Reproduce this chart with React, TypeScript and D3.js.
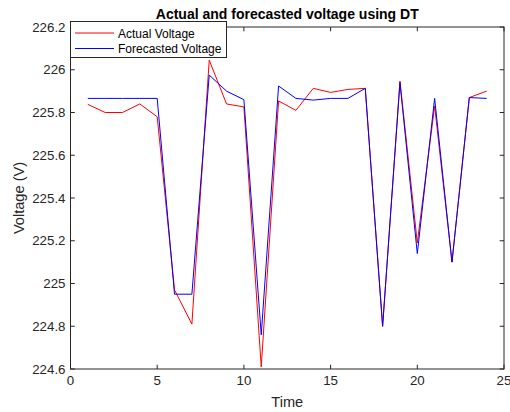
import React from 'react'
import * as d3 from 'd3'

const timeSteps = [1, 2, 3, 4, 5, 6, 7, 8, 9, 10, 11, 12, 13, 14, 15, 16, 17, 18, 19, 20, 21, 22, 23, 24]
const actualVoltage = [225.838, 225.80, 225.80, 225.84, 225.78, 224.97, 224.81, 226.045, 225.84, 225.826, 224.61, 225.854, 225.81, 225.913, 225.894, 225.908, 225.913, 224.80, 225.947, 225.19, 225.83, 225.10, 225.87, 225.90]
const forecastVoltage = [225.866, 225.866, 225.866, 225.866, 225.866, 224.95, 224.95, 225.975, 225.90, 225.86, 224.76, 225.924, 225.866, 225.858, 225.866, 225.866, 225.913, 224.80, 225.94, 225.14, 225.866, 225.10, 225.87, 225.866]
const xTicks = [0, 5, 10, 15, 20, 25]
const yTicks = [224.6, 224.8, 225, 225.2, 225.4, 225.6, 225.8, 226, 226.2]

const font = '"Liberation Sans", Arial, sans-serif'
const axisColor = '#262626'

const App = () => {
    const width = 510, height = 412
    const left = 70.5, right = 504, top = 27, bottom = 369

    const x = d3.scaleLinear().domain([0, 25]).range([left, right])
    const y = d3.scaleLinear().domain([224.6, 226.2]).range([bottom, top])

    const line = d3.line<number>()
        .x((d, i) => x(timeSteps[i]))
        .y(d => y(d))

    const tick = 4.3

    return (
        <svg width={width} height={height} style={{ position: 'absolute', left: 0, top: 0, background: '#fff' }}>
            {/* plot lines */}
            <path d={line(actualVoltage) || ''} fill='none' stroke='#ff0000' strokeWidth={1} />
            <path d={line(forecastVoltage) || ''} fill='none' stroke='#0000ff' strokeWidth={1} />

            {/* box */}
            <rect x={left} y={top} width={right - left} height={bottom - top} fill='none' stroke={axisColor} strokeWidth={1} />

            {/* x ticks, bottom and top */}
            {xTicks.map(t => (
                <g key={'x' + t}>
                    <line x1={x(t)} x2={x(t)} y1={bottom} y2={bottom - tick} stroke={axisColor} />
                    <line x1={x(t)} x2={x(t)} y1={top} y2={top + tick} stroke={axisColor} />
                    <text x={x(t)} y={bottom + 16} textAnchor='middle' fontFamily={font} fontSize={13.3} fill={axisColor}>{t}</text>
                </g>
            ))}

            {/* y ticks, left and right */}
            {yTicks.map(t => (
                <g key={'y' + t}>
                    <line x1={left} x2={left + tick} y1={y(t)} y2={y(t)} stroke={axisColor} />
                    <line x1={right} x2={right - tick} y1={y(t)} y2={y(t)} stroke={axisColor} />
                    <text x={left - 5} y={y(t) + 4.5} textAnchor='end' fontFamily={font} fontSize={13.3} fill={axisColor}>{d3.format('')(+t.toFixed(1))}</text>
                </g>
            ))}

            {/* labels */}
            <text x={(left + right) / 2} y={18.5} textAnchor='middle' fontFamily={font} fontSize={14} fontWeight='bold' fill='#000'>Actual and forecasted voltage using DT</text>
            <text x={(left + right) / 2} y={407} textAnchor='middle' fontFamily={font} fontSize={14.6} fill={axisColor}>Time</text>
            <text transform={`translate(24,${(top + bottom) / 2}) rotate(-90)`} textAnchor='middle' fontFamily={font} fontSize={14.6} fill={axisColor}>Voltage (V)</text>

            {/* legend */}
            <g>
                <rect x={70.5} y={21.5} width={156} height={36} fill='#fff' stroke={axisColor} strokeWidth={1} />
                <line x1={75} x2={114} y1={33} y2={33} stroke='#ff0000' />
                <line x1={75} x2={114} y1={48.5} y2={48.5} stroke='#0000ff' />
                <text x={118} y={37.5} fontFamily={font} fontSize={12} fill='#000'>Actual Voltage</text>
                <text x={118} y={53} fontFamily={font} fontSize={12} fill='#000'>Forecasted Voltage</text>
            </g>
        </svg>
    )
}

export default App
